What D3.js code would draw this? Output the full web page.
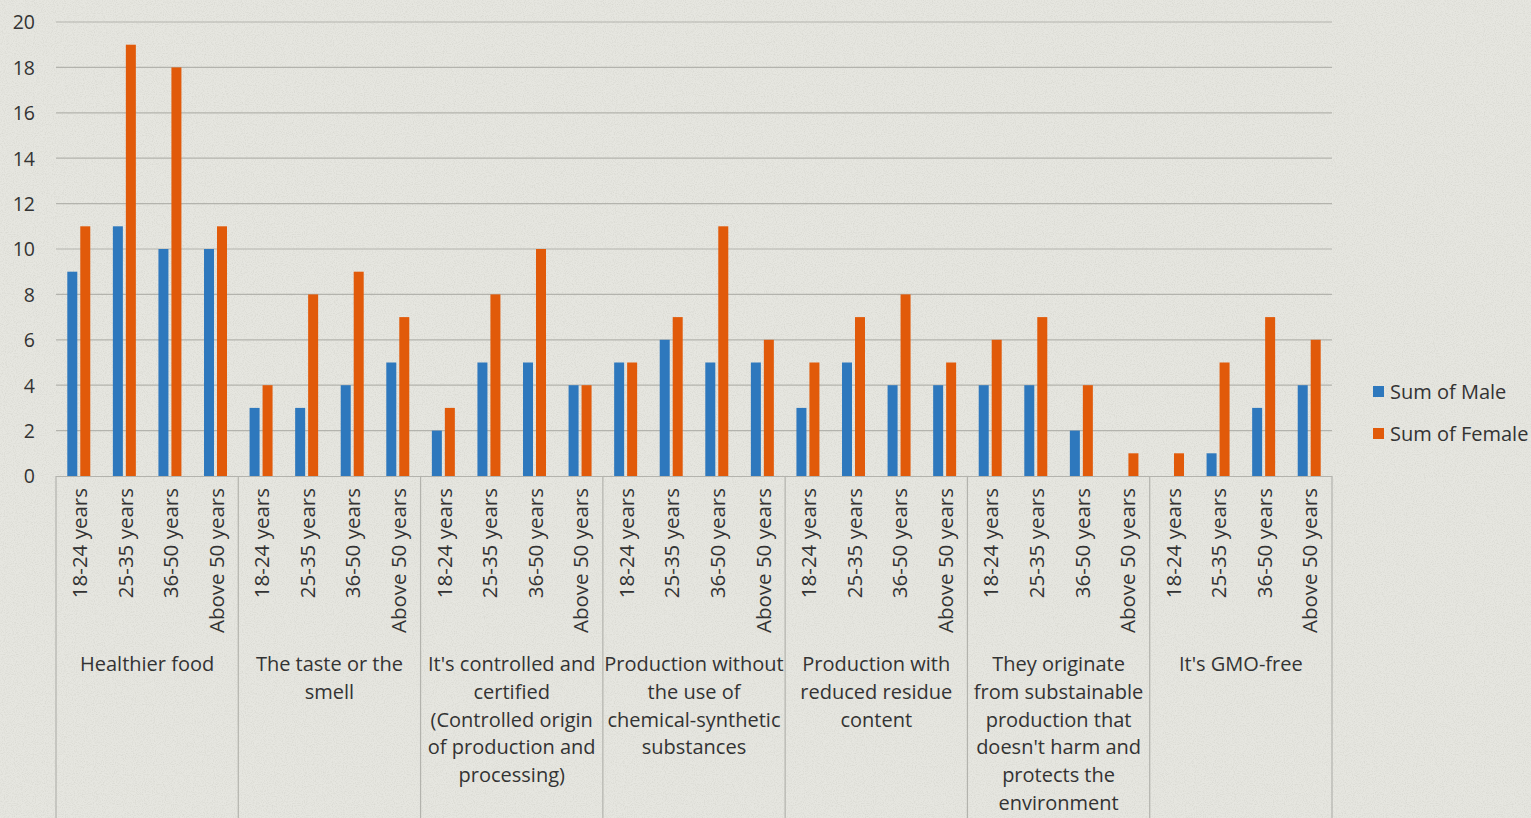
<!DOCTYPE html>
<html>
<head>
<meta charset="utf-8">
<script src="https://cdn.jsdelivr.net/npm/d3@7"></script>
<style>
  html, body { margin: 0; padding: 0; background: #e4e4de; }
  svg { display: block; }
  text { font-family: "Open Sans", Lato, sans-serif; fill: #333333; }
</style>
</head>
<body>
<svg id="chart" width="1531" height="818"></svg>
<script>
// Reasons for buying, by age bracket and gender
const groups = [
  "Healthier food",
  "The taste or the smell",
  "It's controlled and certified (Controlled origin of production and processing)",
  "Production without the use of chemical-synthetic substances",
  "Production with reduced residue content",
  "They originate from substainable production that doesn't harm and protects the environment",
  "It's GMO-free"
];
const groupLines = [
  ["Healthier food"],
  ["The taste or the", "smell"],
  ["It's controlled and", "certified", "(Controlled origin", "of production and", "processing)"],
  ["Production without", "the use of", "chemical-synthetic", "substances"],
  ["Production with", "reduced residue", "content"],
  ["They originate", "from substainable", "production that", "doesn't harm and", "protects the", "environment"],
  ["It's GMO-free"]
];
const ages = ["18-24 years", "25-35 years", "36-50 years", "Above 50 years"];
const series = ["Sum of Male", "Sum of Female"];
const male = [
  [9, 11, 10, 10],
  [3, 3, 4, 5],
  [2, 5, 5, 4],
  [5, 6, 5, 5],
  [3, 5, 4, 4],
  [4, 4, 2, 0],
  [0, 1, 3, 4]
];
const female = [
  [11, 19, 18, 11],
  [4, 8, 9, 7],
  [3, 8, 10, 4],
  [5, 7, 11, 6],
  [5, 7, 8, 5],
  [6, 7, 4, 1],
  [1, 5, 7, 6]
];
const yTicks = [0, 2, 4, 6, 8, 10, 12, 14, 16, 18, 20];
const colors = ["#2e78bd", "#e15a0a"];

const svg = d3.select("#chart");
const W = 1531, H = 818;

// paper-like background
const defs = svg.append("defs");
const f = defs.append("filter").attr("id", "paper").attr("x", 0).attr("y", 0).attr("width", "100%").attr("height", "100%");
f.append("feTurbulence").attr("type", "fractalNoise").attr("baseFrequency", 0.9).attr("numOctaves", 2).attr("seed", 7).attr("result", "n");
f.append("feColorMatrix").attr("type", "matrix")
  .attr("values", "0 0 0 0 0.55  0 0 0 0 0.55  0 0 0 0 0.5  0 0 0 -1.8 1.05");
svg.append("rect").attr("width", W).attr("height", H).attr("fill", "#e6e6e0");
svg.append("rect").attr("width", W).attr("height", H).attr("filter", "url(#paper)").attr("opacity", 0.45);

const plotL = 56, plotR = 1332, plotT = 22, plotB = 476;

const x0 = d3.scaleBand().domain(d3.range(groups.length)).range([plotL, plotR]).padding(0);
const x1 = d3.scaleBand().domain(ages).range([0, x0.bandwidth()]).padding(0);
const x2 = d3.scaleBand().domain([0, 1]).range([0, x1.bandwidth()]).paddingInner(0.23).paddingOuter(0.87);
const y = d3.scaleLinear().domain([0, 20]).range([plotB, plotT]);

// gridlines
svg.append("g").selectAll("line").data(yTicks.filter(d => d > 0)).join("line")
  .attr("x1", plotL).attr("x2", plotR)
  .attr("y1", d => y(d)).attr("y2", d => y(d))
  .attr("stroke", "#b3b3ad").attr("stroke-width", 1.2);

// y axis labels
const yAxis = d3.axisLeft(y).tickValues(yTicks).tickSize(0).tickPadding(0);
const ya = svg.append("g").attr("transform", `translate(35,0)`).call(yAxis);
ya.select(".domain").remove();
ya.selectAll("text").attr("font-size", 19.5).attr("font-family", "'Open Sans', sans-serif").attr("fill", "#333333").attr("dy", "0.35em");

// bars
const bars = [];
groups.forEach((g, gi) => {
  ages.forEach((a, ai) => {
    bars.push({ gi, a, s: 0, v: male[gi][ai] });
    bars.push({ gi, a, s: 1, v: female[gi][ai] });
  });
});
svg.append("g").selectAll("rect").data(bars).join("rect")
  .attr("x", d => x0(d.gi) + x1(d.a) + x2(d.s))
  .attr("width", x2.bandwidth())
  .attr("y", d => y(d.v))
  .attr("height", d => y(0) - y(d.v))
  .attr("fill", d => colors[d.s]);

// category axis frame
const frame = svg.append("g").attr("stroke", "#b3b3ad").attr("stroke-width", 1.2);
frame.append("line").attr("x1", plotL).attr("x2", plotR).attr("y1", plotB + 0.5).attr("y2", plotB + 0.5);
d3.range(groups.length + 1).forEach(i => {
  const xx = i < groups.length ? x0(i) : plotR;
  frame.append("line").attr("x1", xx).attr("x2", xx).attr("y1", plotB).attr("y2", H);
});

// age labels (rotated)
const ageG = svg.append("g");
groups.forEach((g, gi) => {
  ages.forEach(a => {
    const cx = x0(gi) + x1(a) + x1.bandwidth() / 2;
    ageG.append("text")
      .attr("transform", `translate(${cx + 1},${plotB + 12}) rotate(-90)`)
      .attr("text-anchor", "end")
      .attr("dy", "0.35em")
      .attr("font-size", 20.5)
      .text(a);
  });
});

// group labels
const grpG = svg.append("g");
groupLines.forEach((lines, gi) => {
  const cx = x0(gi) + x0.bandwidth() / 2;
  const t = grpG.append("text").attr("text-anchor", "middle").attr("font-size", 20);
  lines.forEach((ln, li) => {
    t.append("tspan").attr("x", cx).attr("y", 671 + li * 27.8).text(ln);
  });
});

// legend
const leg = svg.append("g").attr("transform", "translate(1373,386)");
series.forEach((s, i) => {
  const r = leg.append("g").attr("transform", `translate(0,${i * 42})`);
  r.append("rect").attr("width", 11).attr("height", 11).attr("fill", colors[i]);
  r.append("text").attr("x", 17).attr("y", 5.5).attr("dy", "0.35em").attr("font-size", 20).text(s);
});
</script>
</body>
</html>
